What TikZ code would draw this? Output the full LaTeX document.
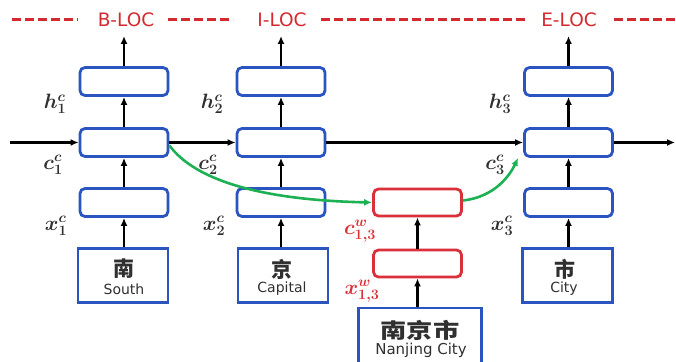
\documentclass[tikz,border=0pt]{standalone}
\usepackage{fontspec}
\usepackage{bm}
\setsansfont{DejaVu Sans}
\newfontfamily\cjk{Noto Sans CJK SC}
\usetikzlibrary{arrows.meta}
\definecolor{boxblue}{HTML}{2A55C0}
\definecolor{boxred}{HTML}{D9303A}
\definecolor{tagred}{HTML}{D42A2F}
\definecolor{lgreen}{HTML}{1DB154}
\definecolor{txtgray}{HTML}{303030}
\begin{document}
\begin{tikzpicture}[x=1pt,y=-1pt,
  cell/.style={draw=boxblue, line width=2.8pt, rounded corners=5pt, fill=white,
    minimum width=88pt, minimum height=28pt, inner sep=0pt},
  rcell/.style={cell, draw=boxred, minimum height=27pt},
  charbox/.style={draw=boxblue, line width=2.8pt, fill=white, inner sep=0pt,
    minimum width=90pt, minimum height=54pt},
  arr/.style={-{Latex[length=8pt,width=7pt]}, line width=2.4pt, black},
  garr/.style={-{Latex[length=8pt,width=7pt]}, line width=2.6pt, lgreen},
  tagdash/.style={tagred, line width=3pt, dash pattern=on 9pt off 4pt},
  tag/.style={text=tagred, font=\sffamily\fontsize{18.5}{21}\selectfont, inner sep=0pt},
  lab/.style={font=\fontsize{20}{23}\selectfont, inner sep=0pt, text=txtgray},
  rlab/.style={lab, text=boxred},
  zh/.style={font=\cjk\bfseries\fontsize{21}{24}\selectfont, inner sep=0pt, text=txtgray},
  en/.style={font=\sffamily\fontsize{14}{16}\selectfont, inner sep=0pt, text=txtgray}]
\clip (0,0) rectangle (676,361);
\fill[white] (0,0) rectangle (676,361);

% tags and dashed line
\node[tag] (tb) at (126,20) {B-LOC};
\node[tag] (ti) at (282,20) {I-LOC};
\node[tag] (te) at (569,20) {E-LOC};
\draw[tagdash] (12,20) -- (78,20);
\draw[tagdash] (168,20) -- (233,20);
\draw[tagdash] (321,20) -- (525,20);
\draw[tagdash] (614,20) -- (676,20);

% column 1
\node[cell] (h1) at (124,81.5) {};
\node[cell] (c1) at (124,142.5) {};
\node[cell] (x1) at (124,202.5) {};
\node[charbox] (w1) at (123,275.5) {};
\node[zh] (z1) at (124,269) {南};
\node[en] (e1) at (124,289) {South};
% column 2
\node[cell] (h2) at (281,81.5) {};
\node[cell] (c2) at (281,142.5) {};
\node[cell] (x2) at (281,202.5) {};
\node[charbox] (w2) at (283,275.5) {};
\node[zh] (z2) at (282,269) {京};
\node[en] (e2) at (282,289) {Capital};
% column 3
\node[cell] (h3) at (568.5,81.5) {};
\node[cell] (c3) at (568.5,142.5) {};
\node[cell] (x3) at (568.5,202.5) {};
\node[charbox] (w3) at (567.5,275.5) {};
\node[zh] (z3) at (565,269) {市};
\node[en] (e3) at (564,289) {City};
% word column
\node[rcell] (r1) at (417.5,202.5) {};
\node[rcell] (r0) at (417.5,263.5) {};
\node[charbox, minimum width=123pt, minimum height=64pt] (wd) at (420,340) {};
\node[zh] (zd) at (420,330) {\scalebox{1.25}[1]{南京市}};
\node[en, font=\sffamily\fontsize{15}{17}\selectfont] (ed) at (421,350) {Nanjing City};

% labels
\node[lab] at (55,104) {$\bm{h}^{\bm{c}}_{\bm{1}}$};
\node[lab] at (53,165) {$\bm{c}^{\bm{c}}_{\bm{1}}$};
\node[lab] at (56,226) {$\bm{x}^{\bm{c}}_{\bm{1}}$};
\node[lab] at (212,104) {$\bm{h}^{\bm{c}}_{\bm{2}}$};
\node[lab] at (208,165) {$\bm{c}^{\bm{c}}_{\bm{2}}$};
\node[lab] at (214,226) {$\bm{x}^{\bm{c}}_{\bm{2}}$};
\node[lab] at (500,104) {$\bm{h}^{\bm{c}}_{\bm{3}}$};
\node[lab] at (495,165) {$\bm{c}^{\bm{c}}_{\bm{3}}$};
\node[lab] at (502,226) {$\bm{x}^{\bm{c}}_{\bm{3}}$};
\node[rlab] at (360,231) {$\bm{c}^{\bm{w}}_{\bm{1,3}}$};
\node[rlab] at (362,291) {$\bm{x}^{\bm{w}}_{\bm{1,3}}$};

% vertical arrows
\coordinate (t1) at (124,36);
\coordinate (t2) at (281,36);
\coordinate (t3) at (568.5,36);
\foreach \i in {1,2,3}{
  \draw[arr] (h\i.north) -- (t\i);
  \draw[arr] (c\i.north) -- (h\i.south);
  \draw[arr] (x\i.north) -- (c\i.south);
}
\draw[arr] (w1.north -| x1) -- (x1.south);
\draw[arr] (w2.north -| x2) -- (x2.south);
\draw[arr] (w3.north -| x3) -- (x3.south);
\draw[arr] (r0.north) -- (r1.south);
\draw[arr] (wd.north -| r0) -- (r0.south);

% horizontal arrows
\coordinate (in) at (10,142.5);
\coordinate (out) at (675,142.5);
\draw[arr] (in) -- (c1.west);
\draw[arr] (c1.east) -- (c2.west);
\draw[arr] (c2.east) -- (c3.west);
\draw[arr] (c3.east) -- (out);

% green connectors
\draw[garr] ([yshift=-3pt]c1.east) .. controls (195,180) and (260,200) .. (r1.west);
\draw[garr] ([yshift=2pt]r1.east) .. controls (495,197) and (510,175) .. ([xshift=-5pt]c3.south west);
\end{tikzpicture}
\end{document}
